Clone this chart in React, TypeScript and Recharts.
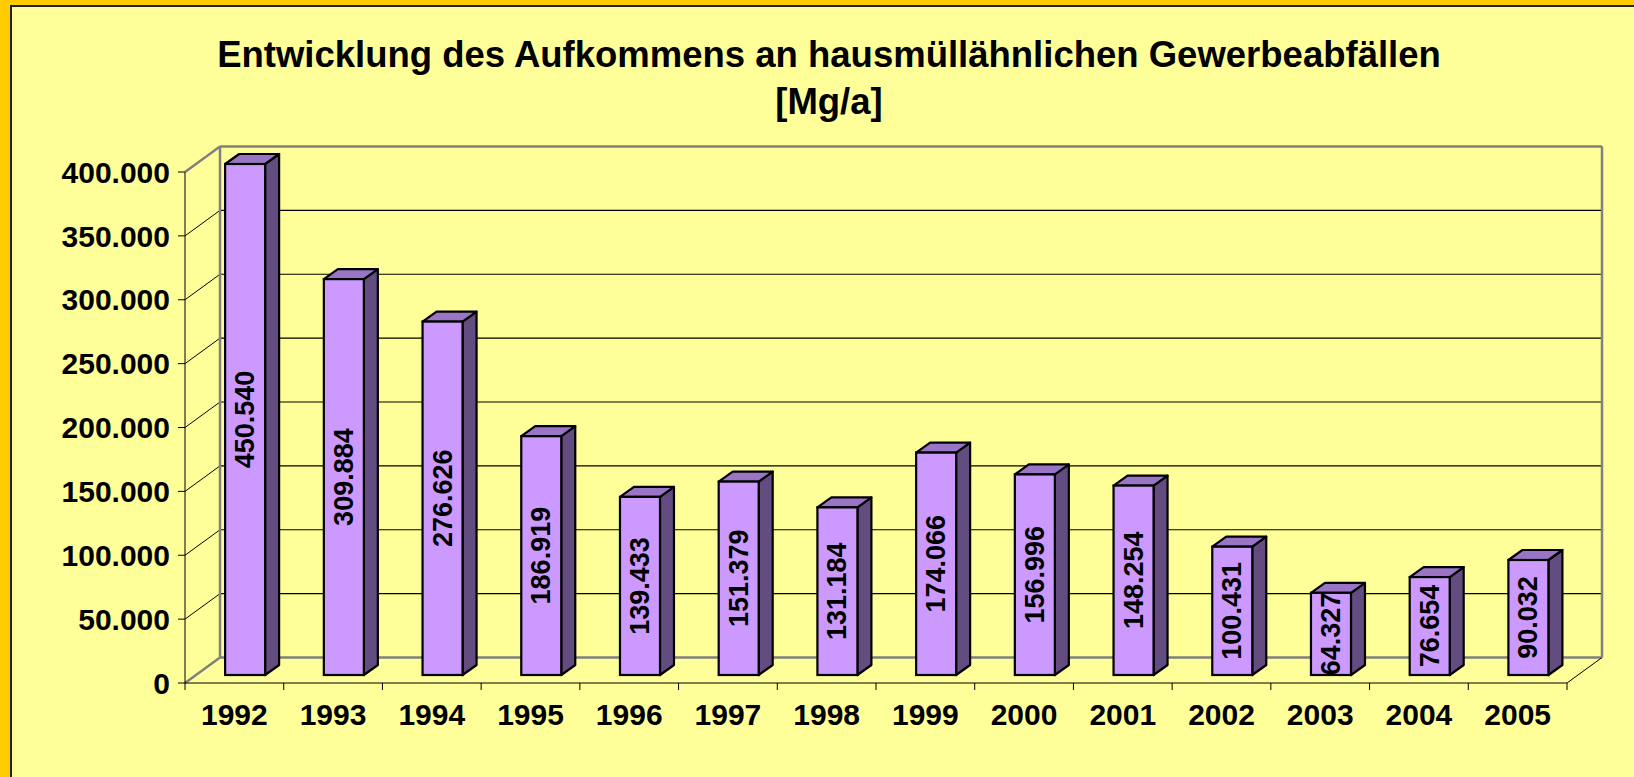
import React from 'react';
import { BarChart, Bar, XAxis, YAxis, CartesianGrid, LabelList } from 'recharts';

// ---------- data ----------
const years = ['1992', '1993', '1994', '1995', '1996', '1997', '1998', '1999', '2000', '2001', '2002', '2003', '2004', '2005'];
const amounts = [450540, 309884, 276626, 186919, 139433, 151379, 131184, 174066, 156996, 148254, 100431, 64327, 76654, 90032];
const yTicks = [0, 50000, 100000, 150000, 200000, 250000, 300000, 350000, 400000];
const titleLines = ['Entwicklung des Aufkommens an hausmüllähnlichen Gewerbeabfällen', '[Mg/a]'];
const Y_MAX = 400000;

const data = years.map((year, i) => ({ year, amount: amounts[i] }));

// ---------- style constants ----------
const FONT = "Arial, 'Liberation Sans', Helvetica, sans-serif";
const BG = '#FFFF99';
const WALL_DX = 35;
const WALL_DY = -25.5;
const BAR_OFF_X = 11;
const BAR_OFF_Y = -8;
const BAR_DEPTH_X = 14;
const BAR_DEPTH_Y = -10;
const FRONT = '#CC99FF';
const TOP = '#9A75C6';
const SIDE = '#634C7F';
const WALL_EDGE = '#808080';

const fmt = (n: number) => String(n).replace(/\B(?=(\d{3})+(?!\d))/g, '.');

const GridLine = (props: any) => {
  const { x1, y1, x2, horizontalPoints, y, height } = props;
  if (x1 == null || y1 == null) return null;
  let topY = y;
  let botY = y + height;
  if (Array.isArray(horizontalPoints) && horizontalPoints.length) {
    topY = Math.min(...horizontalPoints);
    botY = Math.max(...horizontalPoints);
  }
  const bx1 = x1 + WALL_DX;
  const bx2 = x2 + WALL_DX;
  const by = y1 + WALL_DY;
  if (Math.abs(y1 - topY) < 0.5) {
    return (
      <g>
        <line x1={bx1} y1={by} x2={bx1} y2={botY + WALL_DY} stroke={WALL_EDGE} strokeWidth={2.5} />
        <line x1={bx2} y1={by} x2={bx2} y2={botY + WALL_DY} stroke={WALL_EDGE} strokeWidth={2.5} />
        <line x1={bx1} y1={by} x2={bx2} y2={by} stroke={WALL_EDGE} strokeWidth={2.5} />
        <line x1={x1} y1={y1} x2={bx1} y2={by} stroke={WALL_EDGE} strokeWidth={2.5} />
      </g>
    );
  }
  if (Math.abs(y1 - botY) < 0.5) {
    return (
      <g>
        <line x1={bx1} y1={by} x2={bx2} y2={by} stroke={WALL_EDGE} strokeWidth={2.5} />
        <line x1={x1} y1={y1} x2={bx1} y2={by} stroke={WALL_EDGE} strokeWidth={2.5} />
        <line x1={x2} y1={y1} x2={bx2} y2={by} stroke="#000" strokeWidth={1} />
      </g>
    );
  }
  return (
    <g>
      <line x1={bx1} y1={by} x2={bx2} y2={by} stroke="#000" strokeWidth={1.2} />
      <line x1={x1} y1={y1} x2={bx1} y2={by} stroke="#000" strokeWidth={1} />
    </g>
  );
};

const Bar3D = (props: any) => {
  const { x, y, width, height } = props;
  if (x == null || y == null || !width || height == null) return null;
  const fx = x + BAR_OFF_X;
  const fy = y + BAR_OFF_Y;
  const w = width;
  const h = height;
  const top = `${fx},${fy} ${fx + BAR_DEPTH_X},${fy + BAR_DEPTH_Y} ${fx + w + BAR_DEPTH_X},${fy + BAR_DEPTH_Y} ${fx + w},${fy}`;
  const side = `${fx + w},${fy} ${fx + w + BAR_DEPTH_X},${fy + BAR_DEPTH_Y} ${fx + w + BAR_DEPTH_X},${fy + h + BAR_DEPTH_Y} ${fx + w},${fy + h}`;
  return (
    <g>
      <polygon points={side} fill={SIDE} stroke="#000" strokeWidth={2.2} strokeLinejoin="round" />
      <polygon points={top} fill={TOP} stroke="#000" strokeWidth={2.2} strokeLinejoin="round" />
      <rect x={fx} y={fy} width={w} height={h} fill={FRONT} stroke="#000" strokeWidth={2.2} />
    </g>
  );
};

const BarLabel = (props: any) => {
  const vb = props.viewBox || props;
  const x = vb.x ?? props.x;
  const y = vb.y ?? props.y;
  const width = vb.width ?? props.width;
  const height = vb.height ?? props.height;
  if (x == null || y == null) return null;
  const cx = x + BAR_OFF_X + width / 2;
  const cy = y + BAR_OFF_Y + height / 2;
  return (
    <text
      x={cx}
      y={cy}
      transform={`rotate(-90 ${cx} ${cy})`}
      textAnchor="middle"
      dominantBaseline="central"
      fontFamily={FONT}
      fontSize={27}
      fontWeight="bold"
      fill="#000"
    >
      {fmt(Number(props.value))}
    </text>
  );
};

const XTick = (props: any) => {
  const { x, y, payload, index, visibleTicksCount, width } = props;
  const band = width && visibleTicksCount ? width / visibleTicksCount : (payload?.offset ?? 0) * 2;
  const left = x - band / 2;
  const right = x + band / 2;
  return (
    <g>
      <line x1={left} y1={y} x2={left} y2={y + 7} stroke="#000" strokeWidth={1} />
      {index === visibleTicksCount - 1 && <line x1={right} y1={y} x2={right} y2={y + 7} stroke="#000" strokeWidth={1} />}
      <text x={x} y={y + 42} textAnchor="middle" fontFamily={FONT} fontSize={30} fontWeight="bold" fill="#000">
        {payload.value}
      </text>
    </g>
  );
};

export default function App() {
  return (
    <div style={{ position: 'absolute', left: 0, top: 0, width: 1634, height: 777, background: '#FFCC00', overflow: 'hidden' }}>
      <div
        style={{
          position: 'absolute',
          left: 10,
          top: 5,
          width: 1624,
          height: 772,
          background: BG,
          borderLeft: '2px solid #222',
          borderTop: '2px solid #222',
          boxSizing: 'border-box',
        }}
      />
      <svg style={{ position: 'absolute', left: 0, top: 0 }} width={1634} height={130}>
        <text x={829} y={67} textAnchor="middle" fontFamily={FONT} fontSize={36.5} fontWeight="bold" fill="#000">
          {titleLines[0]}
        </text>
        <text x={829} y={114} textAnchor="middle" fontFamily={FONT} fontSize={36.5} fontWeight="bold" fill="#000">
          {titleLines[1]}
        </text>
      </svg>
      <div style={{ position: 'absolute', left: 0, top: 0 }}>
        <BarChart
          width={1634}
          height={777}
          data={data}
          margin={{ top: 172, right: 67, left: 15, bottom: 34 }}
          barCategoryGap="29.5%"
        >
          <CartesianGrid vertical={false} horizontal={(p: any) => <GridLine {...p} />} />
          <XAxis
            dataKey="year"
            height={60}
            interval={0}
            tickLine={false}
            tickSize={0}
            tickMargin={0}
            axisLine={{ stroke: '#000', strokeWidth: 1 }}
            tick={<XTick />}
          />
          <YAxis
            domain={[0, Y_MAX]}
            ticks={yTicks}
            interval={0}
            width={170}
            tickSize={7}
            tickMargin={8}
            tickFormatter={fmt}
            axisLine={{ stroke: '#000', strokeWidth: 1 }}
            tickLine={{ stroke: '#000', strokeWidth: 1 }}
            tick={{ fontFamily: FONT, fontSize: 30, fontWeight: 'bold', fill: '#000' }}
          />
          <Bar
            dataKey={(d: any) => Math.min(d.amount, Y_MAX)}
            shape={<Bar3D />}
            isAnimationActive={false}
          >
            <LabelList dataKey="amount" content={<BarLabel />} />
          </Bar>
        </BarChart>
      </div>
    </div>
  );
}
